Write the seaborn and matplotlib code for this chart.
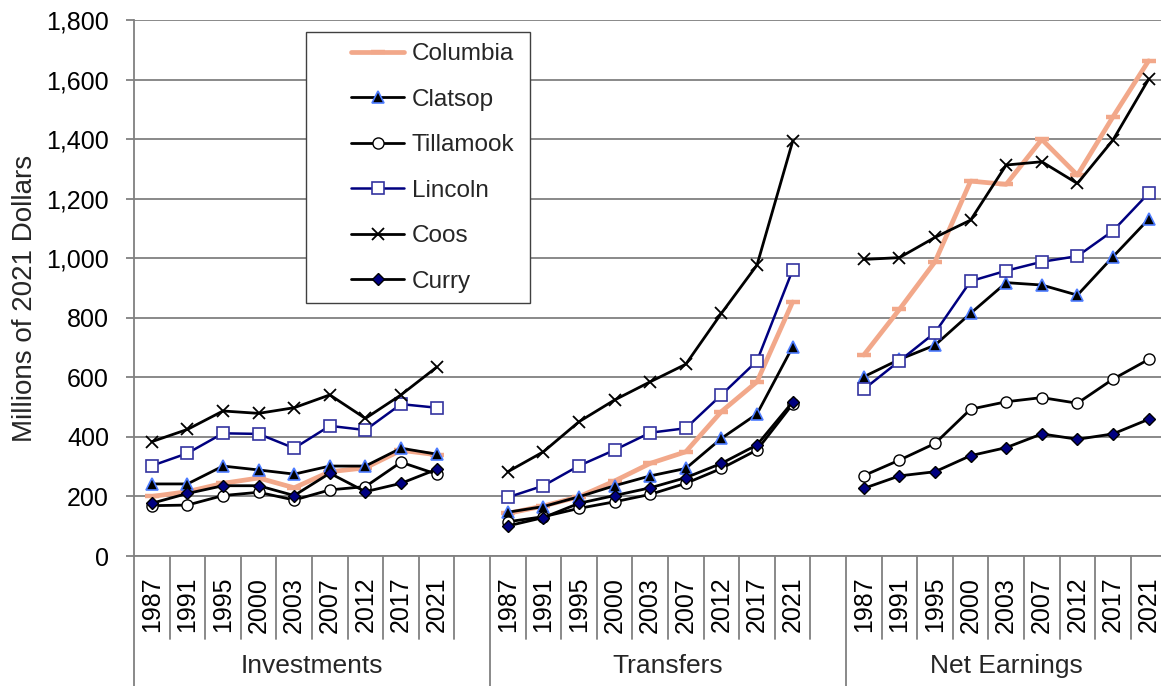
import matplotlib
matplotlib.use("Agg")
import matplotlib.pyplot as plt
from matplotlib.lines import Line2D
from matplotlib.patches import Rectangle
from matplotlib.ticker import FuncFormatter
import pandas as pd
import seaborn as sns

# ---- data (millions of 2021 dollars) ----
years = [1987, 1991, 1995, 2000, 2003, 2007, 2012, 2017, 2021]
groups = ["Investments", "Transfers", "Net Earnings"]
counties = ["Columbia", "Clatsop", "Tillamook", "Lincoln", "Coos", "Curry"]

columbia_inv = [200, 216, 244, 262, 229, 283, 296, 355, 340]
columbia_tr = [143, 168, 199, 252, 311, 350, 485, 585, 853]
columbia_ne = [675, 828, 988, 1259, 1248, 1399, 1279, 1475, 1663]

clatsop_inv = [242, 242, 302, 289, 275, 302, 302, 362, 342]
clatsop_tr = [147, 166, 199, 236, 269, 294, 395, 477, 702]
clatsop_ne = [602, 660, 708, 815, 918, 910, 876, 1005, 1131]

tillamook_inv = [169, 171, 203, 214, 188, 222, 233, 315, 275]
tillamook_tr = [115, 132, 160, 182, 207, 244, 294, 356, 510]
tillamook_ne = [270, 322, 378, 493, 518, 532, 513, 594, 660]

lincoln_inv = [303, 345, 412, 410, 362, 437, 423, 510, 498]
lincoln_tr = [197, 236, 303, 356, 414, 429, 541, 655, 960]
lincoln_ne = [560, 655, 750, 923, 958, 988, 1007, 1092, 1218]

coos_inv = [384, 425, 487, 479, 498, 541, 462, 541, 634]
coos_tr = [283, 350, 451, 524, 585, 644, 815, 977, 1392]
coos_ne = [996, 1002, 1070, 1128, 1313, 1324, 1251, 1397, 1601]

curry_inv = [177, 210, 236, 236, 203, 278, 216, 244, 291]
curry_tr = [101, 129, 177, 203, 229, 263, 311, 373, 517]
curry_ne = [227, 269, 283, 337, 364, 410, 392, 410, 459]

series = {
    "Columbia": [columbia_inv, columbia_tr, columbia_ne],
    "Clatsop": [clatsop_inv, clatsop_tr, clatsop_ne],
    "Tillamook": [tillamook_inv, tillamook_tr, tillamook_ne],
    "Lincoln": [lincoln_inv, lincoln_tr, lincoln_ne],
    "Coos": [coos_inv, coos_tr, coos_ne],
    "Curry": [curry_inv, curry_tr, curry_ne],
}

# long-form table; each group occupies 10 category slots (9 years + a blank slot)
rows = []
for g, gname in enumerate(groups):
    for c in counties:
        for i, (yr, v) in enumerate(zip(years, series[c][g])):
            rows.append(dict(county=c, group=gname, slot=g * 10 + i, year=yr, value=v))
df = pd.DataFrame(rows)

sns.set_style("white")
plt.rcParams["font.family"] = ["Liberation Sans", "DejaVu Sans"]

styles = {
    "Columbia": dict(color="#F2A88A", linewidth=3.4, marker="_", markersize=10,
                     markeredgewidth=3.2, markeredgecolor="#F2A88A", markerfacecolor="#F2A88A"),
    "Clatsop": dict(color="black", linewidth=2.0, marker="^", markersize=8,
                    markerfacecolor="black", markeredgecolor="#4D7CFF", markeredgewidth=1.2),
    "Tillamook": dict(color="black", linewidth=2.0, marker="o", markersize=8,
                      markerfacecolor="white", markeredgecolor="black", markeredgewidth=1.0),
    "Lincoln": dict(color="#000080", linewidth=1.8, marker="s", markersize=8,
                    markerfacecolor="white", markeredgecolor="#3333A0", markeredgewidth=1.2),
    "Coos": dict(color="black", linewidth=2.0, marker="x", markersize=9,
                 markeredgecolor="black", markeredgewidth=1.3),
    "Curry": dict(color="black", linewidth=2.0, marker="D", markersize=6,
                  markerfacecolor="#000080", markeredgecolor="black", markeredgewidth=1.0),
}

W, H = 1161, 686
fig = plt.figure(figsize=(W / 100, H / 100), dpi=100)
x0, slot_w, n_slots = 134, 35.6, 29
top_px, bot_px = 20, 556
ax = fig.add_axes([x0 / W, 1 - bot_px / H, n_slots * slot_w / W, (bot_px - top_px) / H])

for z, c in enumerate(counties):
    sub = df[df["county"] == c]
    sns.lineplot(data=sub, x="slot", y="value", units="group", estimator=None,
                 sort=True, legend=False, ax=ax, zorder=3 + z, **styles[c])

grey = "#808080"
ax.set_xlim(-0.5, n_slots - 0.5)
ax.set_ylim(0, 1800)
ax.set_yticks(range(0, 1801, 200))
ax.yaxis.set_major_formatter(FuncFormatter(lambda v, p: f"{v:,.0f}"))
ax.yaxis.grid(True, color=grey, linewidth=1.3)
ax.xaxis.grid(False)
ax.set_axisbelow(True)
for s in ("top", "right"):
    ax.spines[s].set_visible(False)
for s in ("left", "bottom"):
    ax.spines[s].set_color(grey)
    ax.spines[s].set_linewidth(1.3)
ax.tick_params(axis="y", direction="out", length=6, width=1.3, color=grey,
               labelsize=18, pad=12, labelcolor="black", left=True)

slots = [g * 10 + i for g in range(3) for i in range(len(years))]
ax.set_xticks(slots, labels=[str(y) for _ in groups for y in years], rotation=90)
ax.tick_params(axis="x", length=0, labelsize=18, pad=15, labelcolor="black")
ax.set_xlabel("")
ax.set_ylabel("")

# category separators below the axis, group dividers down to the figure edge
xt = ax.get_xaxis_transform()
short_end = -(639 - bot_px) / (bot_px - top_px)
long_end = -(H - bot_px) / (bot_px - top_px)
for k in range(n_slots + 1):
    xb = k - 0.5
    end = long_end if k in (0, 10, 20) else short_end
    ax.plot([xb, xb], [0, end], transform=xt, color=grey, linewidth=1.3,
            clip_on=False, zorder=1)

label_y = -(666 - bot_px) / (bot_px - top_px)
for g, gname in enumerate(groups):
    n = 10 if g < 2 else 9
    ax.text(g * 10 + (n - 1) / 2, label_y, gname, transform=xt, ha="center",
            va="center", fontsize=19)

fig.text(25 / W, 1 - 298 / H, "Millions of 2021 Dollars", rotation=90,
         ha="center", va="center", fontsize=20)

# legend in a plain box
box = Rectangle((306 / W, 1 - 303 / H), 224 / W, 271 / H, transform=fig.transFigure,
                facecolor="white", edgecolor="#404040", linewidth=1.0, zorder=4)
fig.add_artist(box)
handles = [Line2D([], [], **styles[c]) for c in counties]
leg = fig.legend(handles, counties, loc="upper left", bbox_to_anchor=(351 / W, 1 - 43 / H),
                 bbox_transform=fig.transFigure, frameon=False, borderpad=0,
                 borderaxespad=0, fontsize=17.5, handlelength=2.2, handletextpad=0.3,
                 labelspacing=0.97)
leg.set_zorder(5)

fig.savefig("out.png", dpi=100, facecolor="white")
